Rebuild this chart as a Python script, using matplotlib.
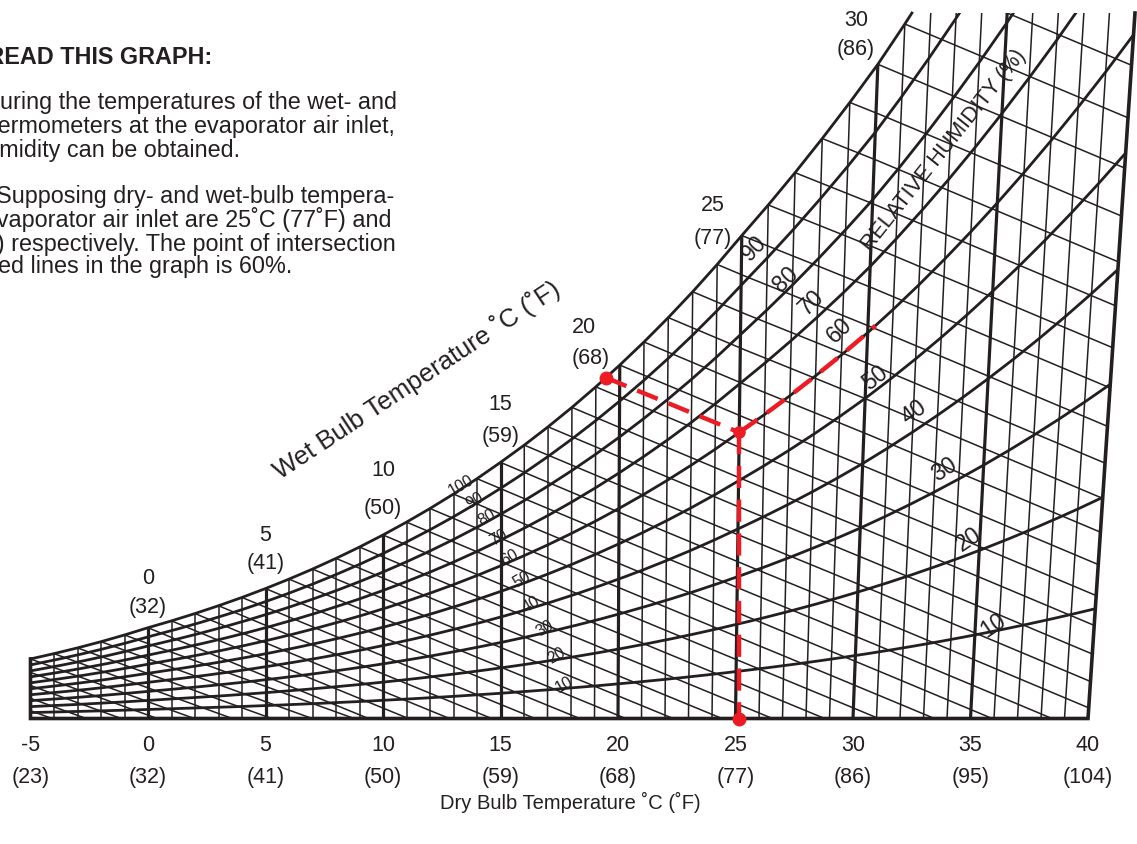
import numpy as np
import matplotlib.pyplot as plt
from matplotlib.patches import Polygon

plt.rcParams['font.family'] = ['Liberation Sans', 'DejaVu Sans']

# saturation vapour pressure in kPa (over ice below 0 C, over water above)
sat_temps = list(range(-9, 41))
sat_kpa = [0.2836, 0.3097, 0.3381, 0.3689, 0.4018, 0.4375, 0.4760, 0.5176, 0.5626,
           0.6112, 0.6571, 0.7060, 0.7581, 0.8135, 0.8726, 0.9354, 1.0021, 1.0730,
           1.1482, 1.2281, 1.3129, 1.4027, 1.4979, 1.5988, 1.7056, 1.8185, 1.9380,
           2.0644, 2.1978, 2.3388, 2.4877, 2.6447, 2.8104, 2.9850, 3.1690, 3.3629,
           3.5670, 3.7818, 4.0078, 4.2455, 4.4953, 4.7578, 5.0335, 5.3229, 5.6267,
           5.9453, 6.2795, 6.6298, 6.9969, 7.3814]

dry_bulb = list(range(-5, 41))
major_c = [-5, 0, 5, 10, 15, 20, 25, 30, 35, 40]
major_f = [23, 32, 41, 50, 59, 68, 77, 86, 95, 104]
wet_bulb = list(range(-9, 34))
wet_label_c = [0, 5, 10, 15, 20, 25, 30]
wet_label_f = [32, 41, 50, 59, 68, 77, 86]
# label offsets (px) from the saturation point, and gap between the two lines
wet_label_dx = [0, 0, 0, 0, -29, -29, -22]
wet_num_dx = [0, 0, 0, 0, -7, 0, 0]
wet_label_dy = [20, 25, 26, 26, 7, -3, 15]
wet_label_gap = [29, 28, 38, 32, 31, 33, 29]
rh_levels = [10, 20, 30, 40, 50, 60, 70, 80, 90, 100]
rh_big_t = [35.77, 34.57, 33.42, 32.07, 30.38, 28.92, 27.79, 26.75, 25.5]
rh_big_off = [6, 15, 17, 19, 13, 26, 20, 12, 23]
rh_big_rot = [34, 34, 33, 36, 38, 44, 44, 44, 46]
rh_small_t = [17.7, 17.4, 16.9, 16.3, 15.9, 15.4, 14.9, 14.4, 13.9, 13.3]

example_db, example_wb, example_rh = 25, 20, 60

# lean of the dry bulb lines (px sideways per px up)
lean_t = [15, 20, 25, 30, 35, 40]
lean_k = [0.0, 0.005, 0.013, 0.038, 0.052, 0.0666]

P_ATM = 101.325
INK = '#231f20'
RED = '#ed1c24'

# layout of the chart in pixels
W_PX, H_PX = 1137, 844
X0_PX, SX = 148.0, 23.5     # x pixel of 0 C, pixels per degree
Y0_PX, SY = 718.5, 24.05    # y pixel of W = 0, pixels per g/kg
TOP_PX = 13.0


def p_sat(t):
    return np.interp(t, sat_temps, sat_kpa)


def w_from_p(pw):
    return 622.0 * pw / (P_ATM - pw)


def w_sat(t):
    return w_from_p(p_sat(t))


def w_wet(t, twb):
    ws = w_sat(twb) / 1000.0
    t = np.asarray(t, dtype=float)
    if twb >= 0:
        w = ((2501 - 2.326 * twb) * ws - 1.006 * (t - twb)) / (2501 + 1.86 * t - 4.186 * twb)
    else:
        w = ((2830 - 0.24 * twb) * ws - 1.006 * (t - twb)) / (2830 + 1.86 * t - 2.1 * twb)
    return 1000.0 * w


def proj(t, w):
    t = np.asarray(t, dtype=float)
    w = np.asarray(w, dtype=float)
    return t + np.interp(t, lean_t, lean_k) * w * SY / SX, w


W_TOP = (Y0_PX - TOP_PX) / SY

fig = plt.figure(figsize=(W_PX / 100, H_PX / 100), dpi=100)
ax = fig.add_axes([0, 0, 1, 1])
ax.set_xlim(-X0_PX / SX, (W_PX - X0_PX) / SX)
ax.set_ylim(-(H_PX - Y0_PX) / SY, Y0_PX / SY)
ax.axis('off')

# saturation curve up to the top edge
t_grid = np.array(dry_bulb, dtype=float)
ws_grid = w_sat(t_grid)
t_top = np.interp(W_TOP, ws_grid, t_grid)
sat_t = np.append(t_grid[t_grid < t_top], t_top)
sat_w = np.minimum(w_sat(sat_t), W_TOP)

# clip region of the grid
cx, cy = proj(sat_t, sat_w)
tx, ty = proj([t_top, 40, 40, -5], [W_TOP, W_TOP, 0, 0])
clip = Polygon(np.column_stack([np.r_[cx, tx], np.r_[cy, ty]]), closed=True,
               facecolor='none', edgecolor='none')
ax.add_patch(clip)

# dry bulb lines
for t in dry_bulb[1:-1]:
    top = min(w_sat(t), W_TOP)
    x, y = proj([t, t], [0, top])
    ax.plot(x, y, color=INK, lw=2.3 if t % 5 == 0 else 1.1, solid_capstyle='butt')

# wet bulb lines
for twb in wet_bulb:
    ts = np.linspace(max(twb, -5), 40, 300)
    ws = w_wet(ts, twb)
    keep = ws >= 0
    ts, ws = ts[keep], ws[keep]
    x, y = proj(ts, ws)
    ln, = ax.plot(x, y, color=INK, lw=1.1)
    ln.set_clip_path(clip)

# relative humidity curves
t_fine = np.linspace(-5, 40, 181)
for rh in rh_levels[:-1]:
    w = w_from_p(rh / 100.0 * p_sat(t_fine))
    x, y = proj(t_fine, w)
    ln, = ax.plot(x, y, color=INK, lw=2.0)
    ln.set_clip_path(clip)
x, y = proj(sat_t, w_sat(sat_t))
ax.plot(x, y, color=INK, lw=2.0)

# borders
x, y = proj([-5, -5, 40, 40], [w_sat(-5), 0, 0, W_TOP])
ax.plot(x, y, color=INK, lw=2.6, solid_joinstyle='miter')

# example reading (dashed red)
w_pt = w_from_p(example_rh / 100.0 * p_sat(example_db))
slope = 1000 * 1.006 / (2501 + 1.86 * example_db - 4.186 * example_wb)
tf = np.linspace(example_db - 10, example_db, 2001)
gap = w_sat(tf) - (w_pt + slope * (example_db - tf))
t_start = tf[np.where(gap <= 0)[0][-1]]
seg_t = np.linspace(t_start, example_db, 20)
seg_w = w_pt + slope * (example_db - seg_t)
rt = np.linspace(example_db, 30.3, 40)
rw = w_from_p(example_rh / 100.0 * p_sat(rt))
px_, py_ = proj(example_db, w_pt)
sx, sy = proj(seg_t, seg_w)
rx, ry = proj(rt, rw)
dash = dict(color=RED, lw=3.2, dashes=(5, 2.6), solid_capstyle='butt')
ax.plot(sx, sy, **dash)
ax.plot(rx, ry, **dash)
ax.plot([px_, px_], [py_, 0], **dash)
ax.plot([sx[0], px_], [sy[0], 0], 'o', color=RED, ms=9, ls='none')
ax.plot(px_, py_, 'o', color=RED, ms=8)

# dry bulb axis labels
for c, f in zip(major_c, major_f):
    ax.text(c, -27 / SY, str(c), ha='center', va='center', fontsize=15.5, color=INK)
    ax.text(c, -59 / SY, f'({f})', ha='center', va='center', fontsize=15.5, color=INK)
ax.text((570 - X0_PX) / SX, -(802 - Y0_PX) / SY, 'Dry Bulb Temperature ˚C (˚F)',
        ha='center', va='center', fontsize=14.5, color=INK)

# wet bulb labels along the saturation curve
for c, f, dx, ndx, dy, g in zip(wet_label_c, wet_label_f, wet_label_dx, wet_num_dx,
                                wet_label_dy, wet_label_gap):
    xs, ys = proj(c, w_sat(c))
    ax.annotate(f'({f})', (xs, ys), xytext=(dx, dy), textcoords='offset pixels',
                ha='center', va='center', fontsize=15.5, color=INK)
    ax.annotate(str(c), (xs, ys), xytext=(dx + ndx, dy + g), textcoords='offset pixels',
                ha='center', va='center', fontsize=15.5, color=INK)
ax.text((417 - X0_PX) / SX, (Y0_PX - 380) / SY, 'Wet Bulb Temperature ˚C (˚F)',
        rotation=33.5, ha='center', va='center', fontsize=18.5, color=INK)

# relative humidity labels
for rh, t, off, rot in zip(rh_levels[:-1], rh_big_t, rh_big_off, rh_big_rot):
    w = w_from_p(rh / 100.0 * p_sat(t))
    ax.annotate(str(rh), proj(t, w), xytext=(0, off), textcoords='offset pixels',
                rotation=rot, rotation_mode='anchor', ha='center', va='center',
                fontsize=16.5, color=INK)
for rh, t in zip(rh_levels, rh_small_t):
    w = w_from_p(rh / 100.0 * p_sat(t))
    ax.annotate(str(rh), proj(t, w), xytext=(0, 4), textcoords='offset pixels',
                rotation=30, rotation_mode='anchor', ha='center', va='center',
                fontsize=11.5, color=INK)
ax.text((944 - X0_PX) / SX, (Y0_PX - 150) / SY, 'RELATIVE HUMIDITY (%)',
        rotation=51.5, ha='center', va='center', fontsize=15.5, color=INK)

# instructions, cut off at the left edge
notes = [
    ('HOW TO READ THIS GRAPH:', 212, 57, 'bold'),
    ('By measuring the temperatures of the wet- and', 397, 103, 'normal'),
    ('dry-bulb thermometers at the evaporator air inlet,', 395, 127, 'normal'),
    ('relative humidity can be obtained.', 240, 150, 'normal'),
    ('Example: Supposing dry- and wet-bulb tempera-', 394, 196, 'normal'),
    ('tures at the evaporator air inlet are 25˚C (77˚F) and', 391, 220, 'normal'),
    ('20˚C (68˚F) respectively. The point of intersection', 396, 244, 'normal'),
    ('of the dashed lines in the graph is 60%.', 292, 267, 'normal'),
]
for text, xr, yc, wt in notes:
    fig.text(xr / W_PX, 1 - yc / H_PX, text, ha='right', va='center',
             fontsize=16.8, fontweight=wt, color=INK)

fig.savefig('out.png', dpi=100)
